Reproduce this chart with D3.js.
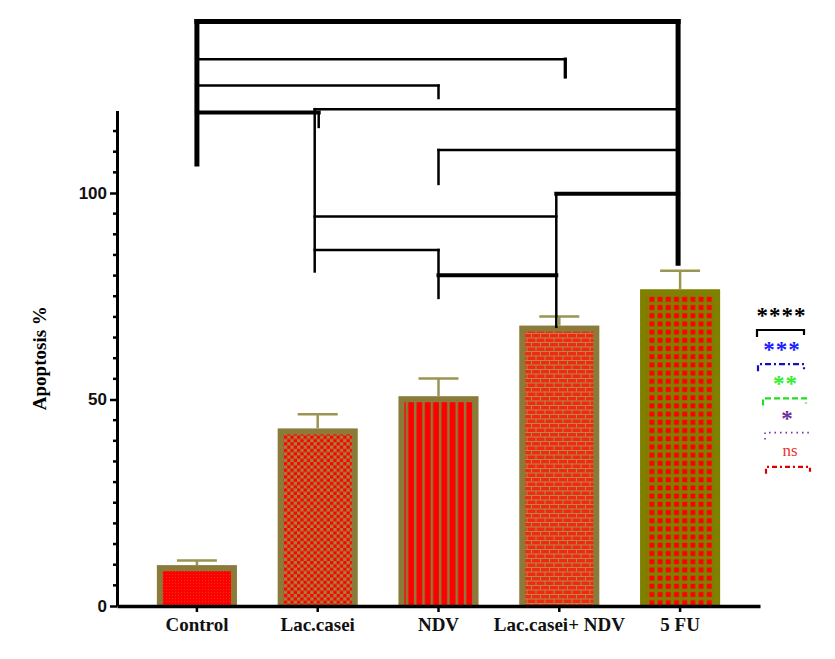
<html>
<head>
<script src="https://d3js.org/d3.v7.min.js"></script>
<style>
  body { margin: 0; background: #fff; }
</style>
</head>
<body>
<script>
// groups and values
var groups = ["Control", "Lac.casei", "NDV", "Lac.casei+ NDV", "5 FU"];
var means = [9.9, 43.0, 50.8, 67.9, 76.7];
var errUp = [1.1, 3.4, 4.3, 2.2, 4.5];
var yTicks = [0, 50, 100];

// significance brackets: left group, right group, bracket level, leg ends (in %)
var cmpLeft  = ["Control", "Control", "Control", "Control", "Lac.casei", "NDV", "Lac.casei+ NDV", "Lac.casei", "Lac.casei", "NDV"];
var cmpRight = ["5 FU", "Lac.casei+ NDV", "NDV", "Lac.casei", "5 FU", "5 FU", "5 FU", "Lac.casei+ NDV", "NDV", "Lac.casei+ NDV"];
var cmpLevel = [141.5, 132.4, 126.0, 119.5, 120.3, 110.4, 99.8, 94.3, 86.2, 80.1];
var cmpEndL  = [107.0, 132.4, 126.0, 119.5, 81.0, 102.2, 67.6, 94.3, 86.2, 80.1];
var cmpEndR  = [83.0, 128.1, 123.0, 116.0, 120.3, 110.4, 99.8, 94.3, 74.6, 80.1];

var legendMarks = ["****", "***", "**", "*", "ns"];

var W = 835, H = 659;
var svg = d3.select("body").append("svg")
  .attr("width", W)
  .attr("height", H);

var x = d3.scaleBand().domain(groups).range([117, 760]).paddingInner(0.337).paddingOuter(0.33);
var y = d3.scaleLinear().domain([0, 120]).range([606, 110.4]);

// fill patterns
var olive = "#8b7b3b", red = "#ff0000";
var defs = svg.append("defs");

var p0 = defs.append("pattern").attr("id", "pDots").attr("patternUnits", "userSpaceOnUse").attr("width", 3).attr("height", 3);
p0.append("rect").attr("width", 3).attr("height", 3).attr("fill", red);
p0.append("rect").attr("x", 1).attr("y", 1).attr("width", 1).attr("height", 1).attr("fill", "#e23a10");

var p1 = defs.append("pattern").attr("id", "pCheck").attr("patternUnits", "userSpaceOnUse").attr("width", 6.6).attr("height", 6.6);
p1.append("rect").attr("width", 6.6).attr("height", 6.6).attr("fill", "#a0843e");
p1.append("rect").attr("width", 3.3).attr("height", 3.3).attr("fill", red);
p1.append("rect").attr("x", 3.3).attr("y", 3.3).attr("width", 3.3).attr("height", 3.3).attr("fill", red);

var p2 = defs.append("pattern").attr("id", "pStripe").attr("patternUnits", "userSpaceOnUse").attr("width", 8.3).attr("height", 8);
p2.append("rect").attr("width", 8.3).attr("height", 8).attr("fill", olive);
p2.append("rect").attr("x", 1.5).attr("width", 5.8).attr("height", 8).attr("fill", red);

var p3 = defs.append("pattern").attr("id", "pBrick").attr("patternUnits", "userSpaceOnUse").attr("width", 9).attr("height", 9);
p3.append("rect").attr("width", 9).attr("height", 9).attr("fill", "#f02a10");
p3.append("path").attr("d", "M0,0.5H9M0,5H9M0.5,0V4.5M5,4.5V9").attr("stroke", "#b4884a").attr("stroke-width", 1).attr("fill", "none");

var p4 = defs.append("pattern").attr("id", "pGrid").attr("patternUnits", "userSpaceOnUse").attr("width", 8.2).attr("height", 8.2);
p4.append("rect").attr("width", 8.2).attr("height", 8.2).attr("fill", "#808000");
p4.append("rect").attr("x", 1.6).attr("y", 1.6).attr("width", 5).attr("height", 5).attr("fill", red);

var fills = ["url(#pDots)", "url(#pCheck)", "url(#pStripe)", "url(#pBrick)", "url(#pGrid)"];
var borders = [olive, olive, olive, olive, "#808000"];
var bw = 6;

// bars
var bars = svg.append("g").selectAll("g").data(groups).enter().append("g");
bars.append("rect")
  .attr("x", function(d) { return x(d); })
  .attr("y", function(d, i) { return y(means[i]); })
  .attr("width", x.bandwidth())
  .attr("height", function(d, i) { return y(0) - y(means[i]); })
  .attr("fill", function(d, i) { return borders[i]; });
bars.append("rect")
  .attr("x", function(d) { return x(d) + bw; })
  .attr("y", function(d, i) { return y(means[i]) + bw; })
  .attr("width", x.bandwidth() - 2 * bw)
  .attr("height", function(d, i) { return y(0) - y(means[i]) - bw; })
  .attr("fill", function(d, i) { return fills[i]; });

// error bars (upper only)
var errColor = "#9a9550";
bars.append("line")
  .attr("x1", function(d) { return x(d) + x.bandwidth() / 2; })
  .attr("x2", function(d) { return x(d) + x.bandwidth() / 2; })
  .attr("y1", function(d, i) { return y(means[i]); })
  .attr("y2", function(d, i) { return y(means[i] + errUp[i]); })
  .attr("stroke", errColor).attr("stroke-width", 2.5);
bars.append("line")
  .attr("x1", function(d) { return x(d) + x.bandwidth() / 2 - 20; })
  .attr("x2", function(d) { return x(d) + x.bandwidth() / 2 + 20; })
  .attr("y1", function(d, i) { return y(means[i] + errUp[i]); })
  .attr("y2", function(d, i) { return y(means[i] + errUp[i]); })
  .attr("stroke", errColor).attr("stroke-width", 2.5);

// y axis
var yAxis = svg.append("g").attr("transform", "translate(117,0)")
  .call(d3.axisLeft(y).tickValues(yTicks).tickSize(7).tickPadding(3).tickSizeOuter(0));
yAxis.select(".domain").attr("stroke-width", 3);
yAxis.selectAll(".tick line").attr("stroke-width", 2.5);
yAxis.selectAll("text").attr("font-family", "Liberation Sans, Arial, sans-serif")
  .attr("font-weight", "bold").attr("font-size", 17).attr("fill", "#111");
var minor = d3.range(5, 120, 5).filter(function(v) { return v % 50 !== 0; });
yAxis.selectAll(".minor").data(minor).enter().append("line")
  .attr("x1", -4).attr("x2", 0)
  .attr("y1", function(d) { return y(d); }).attr("y2", function(d) { return y(d); })
  .attr("stroke", "#000").attr("stroke-width", 2.5);

// x axis
var xAxis = svg.append("g").attr("transform", "translate(0," + y(0) + ")")
  .call(d3.axisBottom(x).tickSize(6).tickPadding(6).tickSizeOuter(0));
xAxis.select(".domain").attr("stroke-width", 3.5);
xAxis.selectAll(".tick line").attr("stroke-width", 2.5);
xAxis.selectAll("text").attr("font-family", "Liberation Serif, Times New Roman, serif")
  .attr("font-weight", "bold").attr("font-size", 19).attr("fill", "#111");

// y label
svg.append("text")
  .attr("transform", "translate(46," + y(60) + ") rotate(-90)")
  .attr("text-anchor", "middle")
  .attr("font-family", "Liberation Serif, Times New Roman, serif")
  .attr("font-weight", "bold").attr("font-size", 19)
  .text("Apoptosis %");

// significance brackets
var barWidthH = [5, 2.5, 2.5, 4, 2.5, 2.5, 4, 2.5, 2.5, 4];
var legWidthL = [5, 2.5, 2.5, 2.5, 2.5, 2.5, 2.5, 2.5, 2.5, 2.5];
var legWidthR = [5, 3.3, 2.5, 2.5, 2.5, 2.5, 2.5, 2.5, 2.5, 2.5];
var shiftR = [0, 9, 0, 4, 0, 0, 0, 0, 0, 0];
function cx(g) {
  var off = (g === "Control" || g === "NDV") ? 0 : (g === "5 FU" ? -2 : -3);
  return x(g) + x.bandwidth() / 2 + off;
}
var brk = svg.append("g").attr("stroke", "#000").attr("fill", "none").attr("stroke-linecap", "square");
cmpLevel.forEach(function(lv, i) {
  var a = cx(cmpLeft[i]), b = cx(cmpRight[i]);
  var bl = b + shiftR[i];
  brk.append("path")
    .attr("d", "M" + a + "," + y(lv) + "H" + Math.max(b, bl))
    .attr("stroke-width", barWidthH[i]);
  if (cmpEndL[i] !== lv) {
    brk.append("path")
      .attr("d", "M" + a + "," + y(lv) + "V" + y(cmpEndL[i]))
      .attr("stroke-width", legWidthL[i]);
  }
  if (cmpEndR[i] !== lv) {
    brk.append("path")
      .attr("d", "M" + bl + "," + y(lv) + "V" + y(cmpEndR[i]))
      .attr("stroke-width", legWidthR[i]);
  }
});

// legend of significance levels
var legColors = ["#000000", "#1c1cff", "#33ee33", "#7030a0", "#ee3333"];
var lineColors = ["#000000", "#1010cc", "#22dd22", "#7030a0", "#dd0000"];
var dashes = [null, "6,3,2,3", "6,3", "1.5,4", "5,3,2,3"];
var legX0 = [757, 758, 763, 765, 766];
var legX1 = [804, 804, 806, 808, 810];
var legTop = 330;
var legStep = 34.2;
var leg = svg.append("g");
legendMarks.forEach(function(m, i) {
  var ly = legTop + i * legStep;
  var isNs = m === "ns";
  leg.append("text")
    .attr("x", (legX0[i] + legX1[i]) / 2 + (isNs ? 2 : 1))
    .attr("y", ly - (isNs ? 11 : 7))
    .attr("text-anchor", "middle")
    .attr("font-family", "Liberation Serif, Times New Roman, serif")
    .attr("font-weight", isNs ? "normal" : "bold")
    .attr("font-size", isNs ? 17 : 23)
    .attr("letter-spacing", isNs ? 0 : 1)
    .attr("fill", legColors[i])
    .text(m);
  leg.append("path")
    .attr("d", "M" + legX0[i] + "," + (ly + 7) + "V" + ly + "H" + legX1[i] + "V" + (ly + 5))
    .attr("fill", "none")
    .attr("stroke", lineColors[i])
    .attr("stroke-width", i === 3 ? 1.6 : 2.2)
    .attr("stroke-dasharray", dashes[i]);
});
</script>
</body>
</html>
